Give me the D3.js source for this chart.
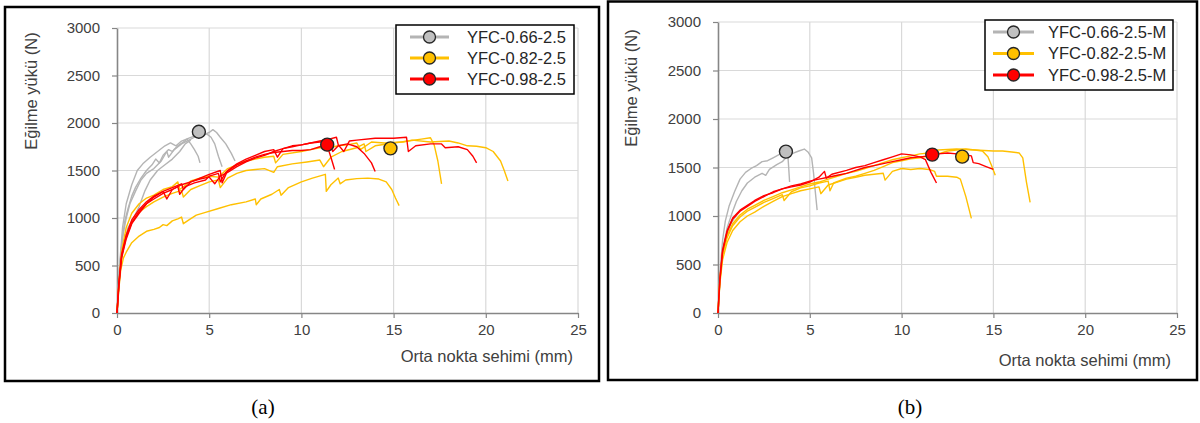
<!DOCTYPE html>
<html>
<head>
<meta charset="utf-8">
<script src="https://cdn.jsdelivr.net/npm/d3@7"></script>
<style>
  body { margin: 0; background: #fff; }
  svg { display: block; }
  .tick text { font-family: "Liberation Sans", Arial, sans-serif; }
</style>
</head>
<body>
<div id="chart"></div>
<script>
// axis ticks
var xTicks = [0, 5, 10, 15, 20, 25];
var yTicks = [0, 500, 1000, 1500, 2000, 2500, 3000];

// legend labels
var labelsA = ["YFC-0.66-2.5", "YFC-0.82-2.5", "YFC-0.98-2.5"];
var labelsB = ["YFC-0.66-2.5-M", "YFC-0.82-2.5-M", "YFC-0.98-2.5-M"];

// panel (a) curves: [deflection mm, load N]
var grayA = [
  [[0,0],[0.1,350],[0.25,700],[0.4,950],[0.6,1100],[0.8,1230],[1.0,1320],[1.3,1420],[1.6,1500],[1.9,1560],[2.1,1620],[2.3,1580],[2.5,1660],[2.8,1720],[3.0,1700],[3.3,1760],[3.6,1800],[3.8,1830],[4.0,1780],[4.2,1720],[4.4,1650],[4.5,1580]],
  [[0,0],[0.15,500],[0.3,800],[0.5,1000],[0.7,1150],[1.0,1280],[1.3,1400],[1.6,1470],[2.0,1520],[2.4,1600],[2.7,1700],[2.8,1640],[3.1,1720],[3.5,1780],[3.9,1820],[4.2,1850],[4.6,1870],[5.0,1900],[5.2,1930],[5.4,1900],[5.6,1850],[5.9,1780],[6.2,1680],[6.4,1600]],
  [[0,0],[0.1,400],[0.3,900],[0.5,1150],[0.8,1350],[1.1,1500],[1.4,1570],[1.8,1640],[2.2,1700],[2.6,1760],[2.9,1790],[3.2,1760],[3.5,1810],[3.9,1840],[4.3,1870],[4.6,1890],[4.9,1880],[5.1,1850],[5.3,1780],[5.5,1650],[5.7,1540]],
  [[0,0],[0.2,500],[0.4,750],[0.6,900],[0.9,1000],[1.2,1120],[1.5,1280],[1.8,1400],[2.2,1500],[2.6,1560],[3.0,1620],[3.4,1700],[3.7,1780],[4.0,1820]]
];
var yellowA = [
  [[0,0],[0.1,250],[0.2,450],[0.35,580],[0.5,640],[0.8,740],[1.2,810],[1.6,860],[2.0,880],[2.3,900],[2.5,930],[2.7,920],[3.0,970],[3.3,990],[3.5,1010],[3.6,940],[3.9,980],[4.3,1030],[4.8,1060],[5.5,1100],[6.2,1140],[7.0,1170],[7.5,1200],[7.55,1140],[7.8,1200],[8.4,1250],[8.8,1300],[8.9,1240],[9.3,1320],[10,1380],[10.6,1420],[11.3,1460],[11.35,1280],[11.6,1350],[12.0,1420],[12.1,1360],[12.4,1400],[13.0,1415],[13.6,1420],[14.2,1410],[14.6,1380],[14.9,1300],[15.1,1210],[15.3,1130]],
  [[0,0],[0.1,300],[0.25,600],[0.5,820],[0.8,950],[1.2,1060],[1.6,1120],[2.0,1170],[2.5,1220],[3.0,1260],[3.5,1290],[3.6,1220],[4.0,1300],[4.5,1340],[5.0,1380],[5.5,1400],[5.6,1320],[6.0,1420],[6.5,1470],[7.0,1500],[7.5,1510],[8.0,1520],[8.5,1480],[8.7,1540],[9.5,1570],[10.3,1590],[11.0,1610],[11.2,1540],[11.6,1640],[12.2,1700],[13.0,1740],[13.4,1780],[13.5,1700],[14.0,1760],[15,1790],[15.8,1810],[16.5,1830],[17.0,1845],[17.2,1770],[17.4,1600],[17.6,1360]],
  [[0,0],[0.1,300],[0.25,650],[0.5,900],[0.8,1050],[1.2,1150],[1.6,1210],[2.0,1240],[2.5,1300],[3.0,1330],[3.3,1380],[3.4,1300],[4.0,1390],[4.5,1420],[5.0,1440],[5.5,1430],[6.0,1520],[6.5,1560],[7.0,1600],[7.5,1620],[8.0,1640],[8.5,1650],[8.6,1580],[9.0,1670],[10,1700],[10.5,1720],[11,1740],[11.5,1740],[12,1760],[12.5,1770],[13,1790],[13.2,1720],[13.8,1800],[14.5,1790],[15.5,1800],[16.0,1820],[17.0,1800],[18.0,1810],[18.5,1790],[19,1760],[19.5,1755],[20,1740],[20.4,1700],[20.8,1600],[21.0,1500],[21.2,1390]]
];
var redA = [
  [[0,0],[0.1,300],[0.25,600],[0.5,800],[0.8,950],[1.2,1070],[1.6,1150],[2.0,1200],[2.5,1260],[3.0,1300],[3.3,1330],[3.4,1250],[3.7,1330],[4.2,1370],[4.8,1400],[5.0,1440],[5.5,1470],[5.6,1380],[5.9,1480],[6.5,1560],[7.0,1600],[7.5,1640],[8.0,1670],[8.5,1690],[9.0,1700],[9.5,1710],[10,1710],[10.5,1720],[11,1750],[11.3,1780],[11.5,1700],[11.6,1640],[11.8,1510]],
  [[0,0],[0.1,280],[0.25,580],[0.5,780],[0.8,940],[1.2,1050],[1.6,1150],[2.0,1220],[2.5,1280],[3.0,1320],[3.5,1360],[3.6,1300],[4.0,1380],[4.5,1420],[5.0,1460],[5.6,1500],[5.7,1370],[6.0,1500],[6.5,1570],[7.0,1620],[7.5,1660],[8.0,1700],[8.5,1720],[8.7,1640],[9.0,1730],[9.5,1750],[10,1770],[10.5,1790],[11.0,1800],[11.5,1810],[11.7,1700],[12.0,1760],[12.5,1780],[13.0,1750],[13.4,1680],[13.8,1580],[14.0,1490]],
  [[0,0],[0.1,320],[0.25,620],[0.5,820],[0.8,980],[1.2,1090],[1.6,1170],[2.0,1230],[2.5,1280],[2.7,1200],[3.0,1300],[3.5,1350],[4.0,1380],[4.5,1410],[5.0,1430],[5.3,1360],[5.6,1440],[6.0,1480],[6.5,1540],[7.0,1590],[7.5,1630],[8.0,1660],[8.5,1700],[9.0,1730],[9.5,1760],[10,1770],[10.5,1790],[11,1810],[11.5,1830],[11.9,1850],[12.0,1770],[12.3,1700],[12.6,1810],[13.0,1820],[14,1840],[15,1840],[15.7,1850],[15.8,1700],[16.2,1760],[17,1780],[17.6,1780],[17.8,1740],[18.5,1750],[19.0,1720],[19.3,1650],[19.5,1580]]
];
var meanA = [[4.44, 1908], [14.83, 1733], [11.4, 1772]];

// panel (b) curves
var grayB = [
  [[0,0],[0.1,400],[0.25,750],[0.4,950],[0.6,1100],[0.9,1250],[1.2,1380],[1.5,1450],[1.8,1490],[2.1,1520],[2.4,1560],[2.7,1570],[3.0,1600],[3.3,1630],[3.6,1660],[3.8,1640],[3.85,1500],[3.9,1350]],
  [[0,0],[0.15,450],[0.3,700],[0.5,880],[0.8,1050],[1.0,1150],[1.3,1260],[1.6,1340],[2.0,1400],[2.4,1440],[2.6,1420],[2.8,1480],[3.2,1530],[3.5,1560],[3.7,1600],[4.0,1640],[4.4,1670],[4.7,1690],[4.9,1660],[5.1,1600],[5.2,1450],[5.3,1250],[5.4,1060]],
  [[0,0],[0.1,350],[0.3,650],[0.5,820],[0.7,920],[0.9,980],[1.0,1000]]
];
var yellowB = [
  [[0,0],[0.1,300],[0.25,550],[0.5,730],[0.8,850],[1.2,940],[1.6,1000],[2.0,1040],[2.5,1100],[3.0,1150],[3.5,1200],[4.0,1230],[4.5,1260],[5.0,1280],[5.5,1300],[5.6,1230],[6.0,1320],[6.5,1350],[7.0,1380],[7.5,1400],[8.0,1420],[8.5,1430],[9.0,1440],[9.1,1370],[9.5,1460],[10,1490],[10.5,1480],[11.0,1490],[11.5,1480],[11.8,1460],[11.9,1410],[12.5,1410],[13.0,1400],[13.2,1380],[13.5,1200],[13.8,975]],
  [[0,0],[0.1,350],[0.25,620],[0.5,800],[0.8,920],[1.2,1010],[1.6,1070],[2.0,1110],[2.5,1160],[3.0,1200],[3.5,1240],[4.0,1270],[4.5,1300],[5.0,1330],[5.5,1350],[6.0,1380],[6.5,1410],[7.0,1440],[7.5,1460],[8.0,1490],[8.5,1520],[9.0,1550],[9.5,1580],[10,1600],[10.5,1620],[11,1640],[11.5,1650],[12,1680],[13,1690],[14,1680],[15,1670],[15.5,1670],[16.0,1660],[16.4,1650],[16.6,1600],[16.8,1350],[17.0,1140]],
  [[0,0],[0.1,320],[0.25,600],[0.5,780],[0.8,900],[1.2,990],[1.6,1050],[2.0,1090],[2.5,1140],[3.0,1180],[3.5,1220],[3.6,1160],[4.0,1250],[4.5,1290],[5.0,1310],[5.5,1340],[6.0,1360],[6.1,1260],[6.3,1340],[7.0,1390],[7.5,1410],[8.0,1440],[8.5,1470],[9.0,1510],[9.5,1550],[10,1570],[10.5,1590],[11,1600],[11.5,1620],[12,1640],[12.5,1670],[13,1680],[13.5,1690],[14.0,1680],[14.4,1670],[14.7,1610],[14.9,1520],[15.1,1420]]
];
var redB = [
  [[0,0],[0.1,350],[0.25,650],[0.5,850],[0.8,980],[1.2,1060],[1.6,1110],[2.0,1160],[2.5,1210],[3.0,1240],[3.5,1280],[4.0,1300],[4.5,1320],[5.0,1350],[5.5,1400],[5.8,1460],[5.9,1390],[6.2,1430],[7.0,1470],[7.5,1500],[8.0,1520],[8.5,1550],[9.0,1580],[9.5,1610],[10,1640],[10.5,1630],[11,1610],[11.3,1580],[11.6,1450],[11.9,1340]],
  [[0,0],[0.1,330],[0.25,630],[0.5,840],[0.8,970],[1.2,1050],[1.6,1100],[2.0,1150],[2.5,1200],[3.0,1250],[3.5,1280],[4.0,1310],[4.5,1330],[5.0,1360],[5.5,1380],[6.0,1400],[6.5,1420],[7.0,1440],[7.5,1470],[8.0,1500],[8.5,1520],[9.0,1540],[9.5,1560],[10,1580],[10.5,1600],[11,1610],[11.5,1620],[12,1640],[12.5,1650],[13,1640],[13.5,1630],[13.8,1620],[13.9,1550],[14.2,1540],[14.6,1510],[15.0,1480]]
];
var meanB = [[3.7, 1664], [13.3, 1612], [11.67, 1633]];

var lineColors = ["#b4b4b4", "#ffc000", "#ff0000"];
var markerFills = ["#c0c0c0", "#ffc000", "#ff0000"];
var font = "'Liberation Sans', Arial, sans-serif";

var svg = d3.select("#chart").append("svg")
  .attr("width", 1200)
  .attr("height", 423);

svg.append("rect").attr("width", 1200).attr("height", 423).attr("fill", "#fff");

function drawPanel(p) {
  var g = svg.append("g");

  // outer frame
  g.append("rect")
    .attr("x", p.frame[0]).attr("y", p.frame[1])
    .attr("width", p.frame[2] - p.frame[0]).attr("height", p.frame[3] - p.frame[1])
    .attr("fill", "none").attr("stroke", "#000").attr("stroke-width", 2.5);

  var x = d3.scaleLinear().domain([0, 25]).range([p.left, p.right]);
  var y = d3.scaleLinear().domain([0, 3000]).range([p.bottom, p.top]);

  // gridlines
  g.append("g").selectAll("line.h")
    .data(yTicks.slice(1)).enter().append("line")
    .attr("x1", p.left).attr("x2", p.right)
    .attr("y1", d => y(d)).attr("y2", d => y(d))
    .attr("stroke", "#d9d9d9").attr("stroke-width", 1.2);
  g.append("g").selectAll("line.v")
    .data(xTicks.slice(1)).enter().append("line")
    .attr("y1", p.top).attr("y2", p.bottom)
    .attr("x1", d => x(d)).attr("x2", d => x(d))
    .attr("stroke", "#d9d9d9").attr("stroke-width", 1.2);

  var xAxis = g.append("g")
    .attr("transform", "translate(0," + p.bottom + ")")
    .call(d3.axisBottom(x).tickValues(xTicks).tickFormat(d3.format("d"))
      .tickSize(5).tickSizeOuter(0).tickPadding(6));
  var yAxis = g.append("g")
    .attr("transform", "translate(" + p.left + ",0)")
    .call(d3.axisLeft(y).tickValues(yTicks).tickFormat(d3.format("d"))
      .tickSize(5).tickSizeOuter(0).tickPadding(12));
  [xAxis, yAxis].forEach(function(a) {
    a.select(".domain").attr("stroke", "#868686").attr("stroke-width", 1.6);
    a.selectAll(".tick line").attr("stroke", "#868686").attr("stroke-width", 1.2);
    a.selectAll(".tick text").attr("fill", "#404040").style("font-size", "15px");
  });

  // axis titles
  g.append("text")
    .attr("transform", "translate(" + p.yTitle[0] + "," + p.yTitle[1] + ") rotate(-90)")
    .attr("text-anchor", "middle")
    .attr("dy", "0.35em")
    .attr("font-family", font).attr("font-size", 16.5).attr("fill", "#404040")
    .text("Eğilme yükü (N)");
  g.append("text")
    .attr("x", p.xTitle[0]).attr("y", p.xTitle[1])
    .attr("text-anchor", "end")
    .attr("font-family", font).attr("font-size", 16.5).attr("fill", "#404040")
    .text("Orta nokta sehimi (mm)");

  var line = d3.line().x(d => x(d[0])).y(d => y(d[1]));

  p.series.forEach(function(curves, i) {
    g.append("g").selectAll("path")
      .data(curves).enter().append("path")
      .attr("d", line)
      .attr("fill", "none")
      .attr("stroke", lineColors[i])
      .attr("stroke-width", 1.4)
      .attr("stroke-linejoin", "round");
  });

  g.append("g").selectAll("circle")
    .data(p.means).enter().append("circle")
    .attr("cx", d => x(d[0])).attr("cy", d => y(d[1]))
    .attr("r", 6.5)
    .attr("fill", (d, i) => markerFills[i])
    .attr("stroke", "#262626").attr("stroke-width", 1.4);

  // legend
  var lg = g.append("g");
  lg.append("rect")
    .attr("x", p.legend.x).attr("y", p.legend.y)
    .attr("width", p.legend.w).attr("height", p.legend.h)
    .attr("fill", "#fff").attr("stroke", "#000").attr("stroke-width", 1.5);
  var rows = lg.selectAll("g.row")
    .data(p.labels).enter().append("g")
    .attr("transform", (d, i) => "translate(0," + (p.legend.y + p.legend.row0 + i * p.legend.step) + ")");
  rows.append("line")
    .attr("x1", p.legend.x + p.legend.l1).attr("x2", p.legend.x + p.legend.l2)
    .attr("stroke", (d, i) => lineColors[i]).attr("stroke-width", 3);
  rows.append("circle")
    .attr("cx", p.legend.x + (p.legend.l1 + p.legend.l2) / 2)
    .attr("r", 6)
    .attr("fill", (d, i) => markerFills[i])
    .attr("stroke", "#262626").attr("stroke-width", 1.3);
  rows.append("text")
    .attr("x", p.legend.x + p.legend.tx)
    .attr("dy", "0.36em")
    .attr("font-family", font).attr("font-size", 16.5).attr("fill", "#262626")
    .text(d => d);

  // caption
  svg.append("text")
    .attr("x", p.caption[0]).attr("y", p.caption[1])
    .attr("text-anchor", "middle")
    .attr("font-family", "'Liberation Serif', 'Times New Roman', serif")
    .attr("font-size", 21).attr("fill", "#000")
    .text(p.captionText);
}

drawPanel({
  frame: [5, 7, 599, 381],
  left: 117, right: 578, top: 28, bottom: 313,
  yTitle: [31, 91], xTitle: [573, 362],
  series: [grayA, yellowA, redA],
  means: meanA,
  labels: labelsA,
  legend: { x: 396, y: 25, w: 178, h: 69, row0: 12, step: 21, l1: 14, l2: 53, tx: 71 },
  caption: [263, 414], captionText: "(a)"
});

drawPanel({
  frame: [608, 1.5, 1197, 380],
  left: 718, right: 1177, top: 22, bottom: 313,
  yTitle: [631, 88], xTitle: [1171, 366],
  series: [grayB, yellowB, redB],
  means: meanB,
  labels: labelsB,
  legend: { x: 985, y: 20, w: 188, h: 70, row0: 12, step: 21.5, l1: 8, l2: 49, tx: 63 },
  caption: [910, 414], captionText: "(b)"
});
</script>
</body>
</html>
